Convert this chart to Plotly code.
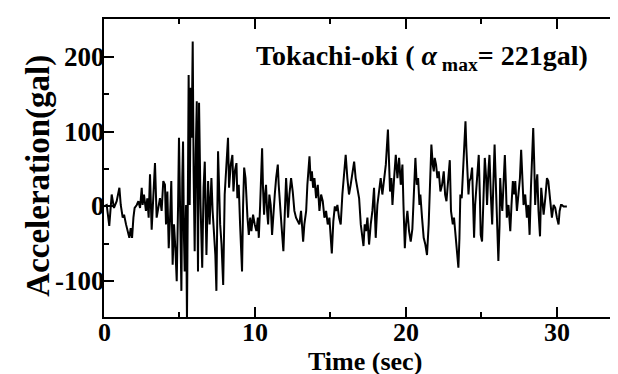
import plotly.graph_objects as go

# time (sec) and acceleration (gal)
time_s = [0.00, 0.18, 0.35, 0.51, 0.66, 0.84, 1.02, 1.11, 1.24, 1.33, 1.46, 1.55, 1.68, 1.77, 1.86, 1.95,
          2.03, 2.17, 2.28, 2.39, 2.50, 2.56, 2.65, 2.78, 2.87, 2.96, 3.05, 3.16, 3.27, 3.38, 3.49, 3.60,
          3.71, 3.82, 3.93, 4.04, 4.11, 4.20, 4.29, 4.38, 4.46, 4.55, 4.64, 4.73, 4.82, 4.91, 4.97, 5.06,
          5.13, 5.19, 5.24, 5.30, 5.35, 5.44, 5.50, 5.57, 5.61, 5.68, 5.75, 5.81, 5.88, 5.94, 6.01, 6.08,
          6.15, 6.23, 6.30, 6.40, 6.51, 6.60, 6.68, 6.79, 6.90, 7.00, 7.12, 7.20, 7.29, 7.38, 7.45, 7.52,
          7.56, 7.63, 7.70, 7.79, 7.90, 8.00, 8.11, 8.22, 8.29, 8.40, 8.51, 8.58, 8.67, 8.78, 8.84, 8.93,
          9.02, 9.09, 9.15, 9.22, 9.29, 9.38, 9.44, 9.51, 9.60, 9.69, 9.77, 9.88, 9.99, 10.10, 10.20, 10.26,
          10.35, 10.48, 10.54, 10.61, 10.68, 10.74, 10.81, 10.88, 10.96, 11.05, 11.14, 11.23, 11.32, 11.41, 11.52, 11.58,
          11.67, 11.76, 11.89, 11.98, 12.07, 12.14, 12.20, 12.29, 12.40, 12.51, 12.62, 12.73, 12.84, 12.95, 13.06, 13.20,
          13.28, 13.40, 13.48, 13.62, 13.70, 13.78, 13.86, 13.95, 14.06, 14.17, 14.28, 14.39, 14.50, 14.61, 14.72, 14.83,
          14.94, 15.10, 15.20, 15.30, 15.38, 15.47, 15.58, 15.69, 15.80, 15.91, 16.02, 16.13, 16.24, 16.35, 16.47, 16.58,
          16.68, 16.80, 16.91, 17.02, 17.11, 17.20, 17.28, 17.37, 17.46, 17.57, 17.68, 17.79, 17.90, 18.01, 18.12, 18.23,
          18.34, 18.45, 18.56, 18.68, 18.82, 18.90, 18.96, 19.05, 19.12, 19.23, 19.34, 19.45, 19.56, 19.67, 19.78, 19.85,
          19.94, 20.02, 20.11, 20.22, 20.33, 20.44, 20.55, 20.64, 20.73, 20.82, 20.91, 20.97, 21.08, 21.19, 21.30, 21.41,
          21.52, 21.61, 21.70, 21.79, 21.86, 21.92, 22.01, 22.10, 22.19, 22.30, 22.41, 22.52, 22.61, 22.70, 22.79, 22.92,
          23.00, 23.12, 23.20, 23.29, 23.38, 23.49, 23.56, 23.62, 23.71, 23.78, 23.87, 23.96, 24.02, 24.09, 24.16, 24.22,
          24.31, 24.40, 24.47, 24.53, 24.60, 24.67, 24.75, 24.84, 24.91, 24.97, 25.06, 25.15, 25.24, 25.33, 25.39, 25.48,
          25.55, 25.64, 25.73, 25.80, 25.89, 25.96, 26.04, 26.14, 26.22, 26.26, 26.33, 26.40, 26.48, 26.57, 26.64, 26.70,
          26.81, 26.93, 27.01, 27.10, 27.19, 27.26, 27.37, 27.48, 27.57, 27.65, 27.74, 27.81, 27.92, 28.03, 28.12, 28.21,
          28.30, 28.36, 28.45, 28.52, 28.58, 28.65, 28.72, 28.80, 28.90, 28.98, 29.05, 29.14, 29.25, 29.36, 29.45, 29.53,
          29.62, 29.69, 29.80, 29.91, 30.02, 30.13, 30.20, 30.29, 30.35, 30.46, 30.68]
accel_gal = [0, 2, -26, 16, -2, 7, 25, 2, -15, -11, -24, -33, -42, -29, -42, -15,
             -2, 2, 7, -2, 25, 2, 16, -6, 11, -15, 43, -31, 7, 58, -15, -2,
             11, -6, 34, 29, -24, 20, -56, -15, 34, -78, -24, -56, -100, 2, 92, -24,
             -113, 38, 87, -42, -87, 2, -152, 47, 176, 2, 159, 92, 221, 47, -60, 69,
             141, -87, 139, 2, -82, 25, 60, -65, 34, -24, 38, -6, -42, -65, -113, 2,
             74, 25, -24, -51, -105, 16, 56, 92, 25, 56, 69, 20, 47, 58, 11, 29,
             -24, -51, -87, 2, 52, 38, 11, -15, -38, -15, -33, -11, -24, -33, -15, -42,
             2, 78, 25, -11, 16, 29, -6, -24, 16, 2, -38, -6, 16, 38, 56, 29,
             -6, -24, -60, -6, 38, 11, -15, 16, 38, 20, -6, -15, -20, -24, -6, -47,
             -24, -6, 29, 67, 34, 47, 25, 38, 11, 29, -6, 16, 7, -15, -6, -24,
             -15, -63, -20, 0, -6, 2, -15, -24, 16, 47, 69, 38, 16, 29, 47, 60,
             38, 25, 11, -24, -42, -53, -24, -33, -15, -51, -24, -6, 25, -42, 2, 20,
             38, 16, 34, 56, 103, 56, 20, 38, 2, 38, 69, 38, 65, 29, 56, 2,
             -56, -24, -6, -33, -47, -30, 20, 65, 29, 38, 2, 16, -15, -42, -51, -65,
             -24, 38, 83, 56, 47, 65, 56, 38, 47, 20, 29, 47, 16, 7, 34, 62,
             -6, -24, -15, -38, -60, -82, -42, 16, 11, 38, 78, 114, 78, 38, 16, 34,
             38, 52, 11, -42, 2, 20, 47, 69, 16, -38, -47, 16, 65, 38, 2, 47,
             69, 16, -24, 25, 83, 38, -6, -73, -24, 38, 11, -6, 29, 69, 29, -15,
             2, -33, 2, 34, 16, 34, -6, 20, 38, 76, 38, 2, 16, -15, 2, -38,
             25, 69, 105, 56, 2, 29, 43, -6, -40, 25, 11, -11, 11, 38, 34, 16,
             2, -15, 2, -2, -15, -24, -6, 2, 2, 0, 0]

x_ticks = [0, 10, 20, 30]
x_labels = ["0", "10", "20", "30"]
y_ticks = [-100, 0, 100, 200]
y_labels = ["-100", "0", "100", "200"]
y_minor = [-50, 50, 150]

FONT = "Liberation Serif"
X_RANGE = [0, 34.6]
Y_RANGE = [-148, 251]

fig = go.Figure()
fig.add_trace(go.Scatter(x=time_s, y=accel_gal, mode="lines",
                         line=dict(color="black", width=2), showlegend=False))

tick_style = dict(ticks="inside", ticklen=10, tickwidth=1.5, tickcolor="black",
                  showgrid=False, zeroline=False, showticklabels=False)
minor_style = dict(ticks="inside", ticklen=5, tickwidth=1.5, tickcolor="black")

fig.update_layout(
    xaxis=dict(range=X_RANGE, tickvals=x_ticks, showline=True, linecolor="black", linewidth=2,
               mirror="ticks", minor=dict(dtick=5, **minor_style), **tick_style),
    yaxis=dict(range=Y_RANGE, tickvals=y_ticks, showline=True, linecolor="black", linewidth=2,
               mirror=False, minor=dict(tickvals=y_minor, **minor_style), **tick_style),
    yaxis2=dict(range=Y_RANGE, tickvals=y_ticks, overlaying="y", side="right", showline=False,
                linewidth=0, linecolor="rgba(0,0,0,0)",
                minor=dict(tickvals=y_minor, **minor_style), **tick_style),
)
# invisible helper trace so the right-hand tick axis is drawn
fig.add_trace(go.Scatter(x=[0], y=[0], yaxis="y2", mode="markers",
                         marker=dict(opacity=0), hoverinfo="skip", showlegend=False))

# tick labels
for v, s in zip(x_ticks, x_labels):
    fig.add_annotation(text="<b>%s</b>" % s, xref="x", yref="paper", x=v, y=0, yshift=0,
                       xanchor="center", yanchor="top", showarrow=False, borderpad=0,
                       font=dict(family=FONT, size=26, color="black"))
for v, s in zip(y_ticks, y_labels):
    fig.add_annotation(text="<b>%s</b>" % s, xref="paper", yref="y", x=0, y=v, xshift=2,
                       xanchor="right", yanchor="middle", showarrow=False, borderpad=0,
                       font=dict(family=FONT, size=27, color="black"))

fig.add_annotation(text="<b>Tokachi-oki ( <i>α</i><sub> max</sub>= 221gal)</b>", xref="paper", yref="paper",
                   x=0.288, y=0.872, xanchor="left", yanchor="middle", showarrow=False,
                   font=dict(family=FONT, size=28, color="black"))
fig.add_annotation(text="<b>Time (sec)</b>", xref="paper", yref="paper",
                   x=0.5, y=-0.148, xanchor="center", yanchor="middle", showarrow=False, borderpad=0,
                   font=dict(family=FONT, size=26, color="black"))
fig.add_annotation(text="<b>Acceleration(gal)</b>", xref="paper", yref="paper", textangle=-90,
                   x=-0.126, y=0.475, xanchor="center", yanchor="middle", showarrow=False,
                   font=dict(family=FONT, size=33, color="black"))

fig.update_layout(width=618, height=374, margin=dict(l=96, r=0, t=11, b=65),
                  plot_bgcolor="white", paper_bgcolor="white")

fig.write_html("out.html")
